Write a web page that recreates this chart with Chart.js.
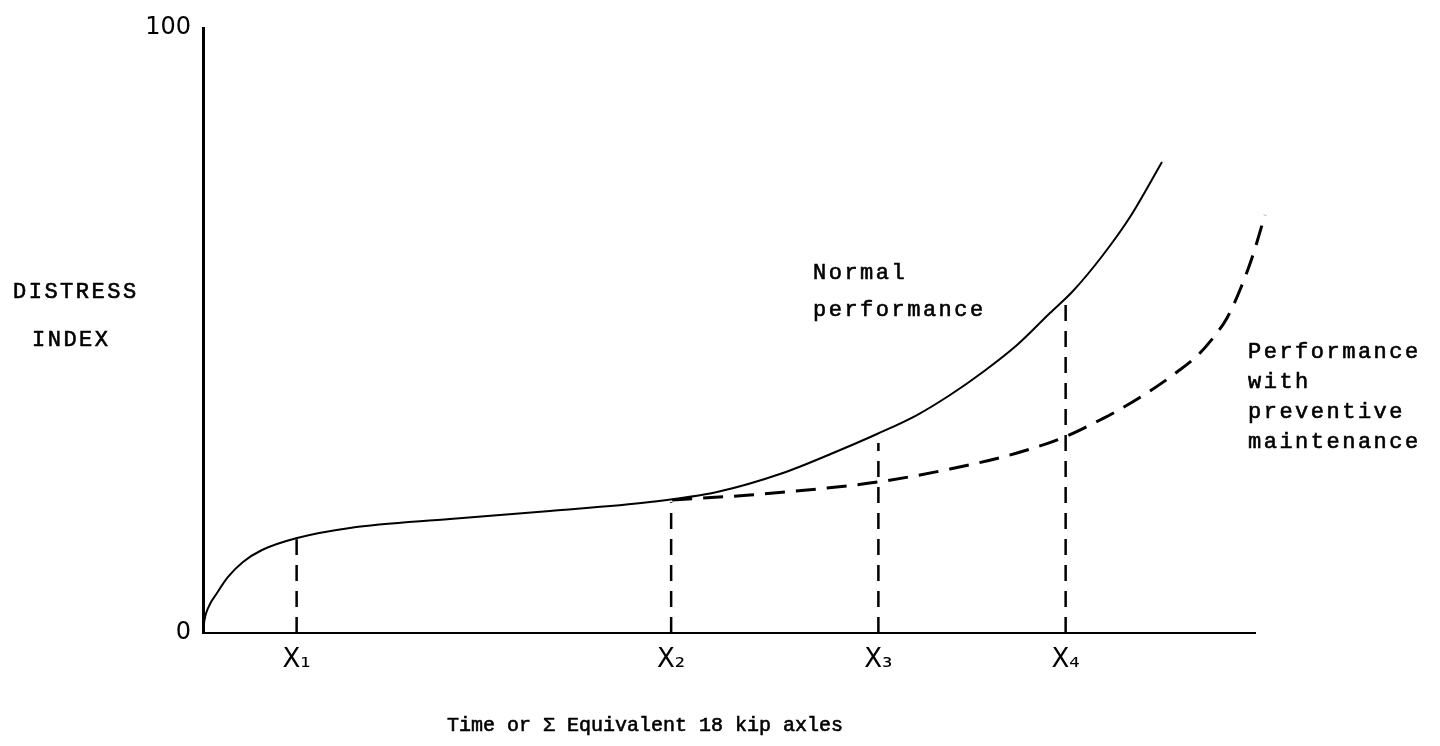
<!DOCTYPE html>
<html>
<head>
<meta charset="utf-8">
<script src="https://cdn.jsdelivr.net/npm/chart.js@4/dist/chart.umd.min.js"></script>
<style>
  html, body { margin: 0; background: #fff; }
</style>
</head>
<body>
<canvas id="distressChart" width="1440" height="746"></canvas>
<script>
// Normal performance curve (x = time / axles, y = distress index)
const normalX = [0, 0.14, 0.57, 1.33, 2.38, 3.8, 5.61, 8.94, 13.97, 23.48, 32.98, 42.49, 48.86, 55.13, 59.89, 64.07, 67.87, 71.01, 74.14, 77.38, 80.51, 82.7, 85.55, 88.12, 91.16];
const normalY = [0, 2.15, 4.46, 6.61, 9.26, 11.74, 13.72, 15.7, 17.36, 18.84, 20.17, 21.65, 23.31, 26.45, 29.75, 32.89, 36.03, 39.34, 43.14, 47.6, 52.89, 56.53, 62.48, 68.76, 77.85];

// Performance with preventive maintenance (branches off at X2)
const preventiveX = [44.6, 52.0, 58.37, 64.16, 71.01, 77.38, 82.13, 85.27, 86.88, 90.02, 92.59, 94.49, 96.01, 97.34, 98.57, 99.71, 100.95];
const preventiveY = [22.0, 22.81, 23.8, 24.96, 27.11, 29.75, 32.56, 35.21, 36.69, 40.0, 43.14, 45.79, 48.76, 52.07, 56.69, 61.98, 69.09];

// marker positions on the time axis and how high each dashed drop line goes
const markerX = [8.9, 44.5, 64.2, 82.0];
const markerTop = [15.5, 21.6, 31.4, 54.7];
const markerLabels = ['X\u2081', 'X\u2082', 'X\u2083', 'X\u2084'];

const yTicks = [0, 100];

const toPoints = (xs, ys) => xs.map((x, i) => ({ x: x, y: ys[i] }));

const datasets = [
  {
    label: 'Normal performance',
    data: toPoints(normalX, normalY),
    borderColor: '#000',
    borderWidth: 2,
    cubicInterpolationMode: 'monotone',
    clip: false
  },
  {
    label: 'Performance with preventive maintenance',
    data: toPoints(preventiveX, preventiveY),
    borderColor: '#000',
    borderWidth: 3,
    borderDash: [20, 11],
    cubicInterpolationMode: 'monotone',
    clip: false
  }
];

// dashed drop lines from the curves down to the axis
markerX.forEach((x, i) => {
  datasets.push({
    label: markerLabels[i],
    data: [{ x: x, y: 0 }, { x: x, y: markerTop[i] }],
    borderColor: '#000',
    borderWidth: 2.5,
    borderDash: [16, 10],
    clip: false
  });
});

// typewriter labels on the figure
const textPlugin = {
  id: 'figureText',
  afterDraw: (chart) => {
    const ctx = chart.ctx;
    const put = (txt, x, y) => {
      ctx.fillText(txt, x, y);
      ctx.strokeText(txt, x, y); // a bit heavier, like typewriter ink
    };
    ctx.save();
    ctx.fillStyle = '#000';
    ctx.strokeStyle = '#000';
    ctx.lineWidth = 0.6;
    ctx.textBaseline = 'middle';
    ctx.textAlign = 'left';
    ctx.font = '22px "Liberation Mono"';
    ctx.letterSpacing = '2.5px';
    put('DISTRESS', 13, 292);
    put('INDEX', 32, 340);

    put('Normal', 813, 273);
    put('performance', 813, 310);

    put('Performance', 1248, 352);
    put('with', 1248, 382);
    put('preventive', 1248, 412);
    put('maintenance', 1248, 442);

    ctx.letterSpacing = '0px';
    ctx.textAlign = 'center';
    ctx.font = '20px "Liberation Mono"';
    put('Time or \u03A3 Equivalent 18 kip axles', 645, 726);
    ctx.restore();
  }
};

const ctx = document.getElementById('distressChart').getContext('2d');
new Chart(ctx, {
  type: 'scatter',
  data: { datasets: datasets },
  options: {
    responsive: false,
    animation: false,
    showLine: true,
    elements: { point: { radius: 0 } },
    layout: { padding: { left: 0, right: 185, top: 28, bottom: 0 } },
    plugins: {
      legend: { display: false },
      tooltip: { enabled: false }
    },
    scales: {
      x: {
        type: 'linear',
        min: 0,
        max: 100,
        grid: { display: false, drawTicks: false },
        border: { display: true, color: '#000', width: 2 },
        afterBuildTicks: (scale) => { scale.ticks = markerX.map(v => ({ value: v })); },
        afterFit: (scale) => { scale.height = 113; },
        ticks: {
          color: '#000',
          padding: 12,
          font: { family: 'DejaVu Sans', size: 26 },
          callback: (value, index) => markerLabels[index]
        }
      },
      y: {
        type: 'linear',
        min: 0,
        max: 100,
        grid: { display: false, drawTicks: false },
        border: { display: true, color: '#000', width: 3 },
        afterBuildTicks: (scale) => { scale.ticks = yTicks.map(v => ({ value: v })); },
        afterFit: (scale) => { scale.width = 203; },
        ticks: {
          color: '#000',
          padding: 12,
          font: { family: 'DejaVu Sans', size: 24 },
          callback: (value) => String(value)
        }
      }
    }
  },
  plugins: [textPlugin]
});
</script>
</body>
</html>
